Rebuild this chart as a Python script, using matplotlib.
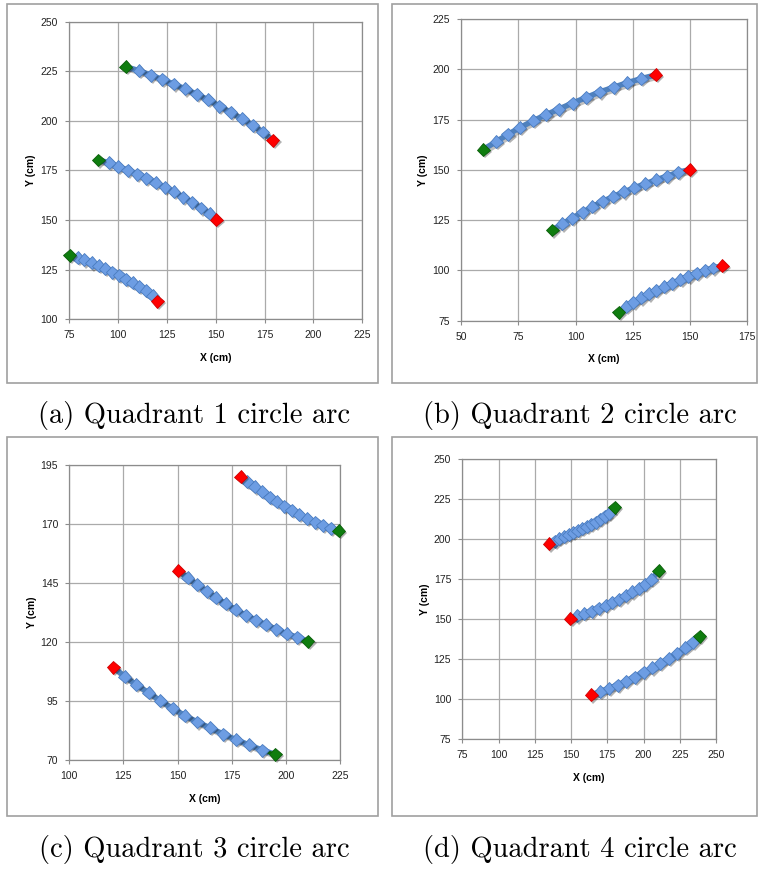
import matplotlib.pyplot as plt
import matplotlib.patheffects as pe
from matplotlib.patches import Rectangle

# ---- data (cm) ----
# panel (a): quadrant 1
a_blue_x = [[110.8, 116.8, 122.7, 128.5, 134.5, 140.4, 146.1, 151.9, 157.7, 163.5, 168.9, 174.0],
            [95.5, 100.2, 105.0, 109.8, 114.5, 119.3, 124.1, 128.7, 133.3, 137.9, 142.5, 146.9],
            [79.4, 82.8, 86.6, 90.2, 93.6, 97.2, 100.7, 104.1, 107.6, 111.0, 114.4, 117.8]]
a_blue_y = [[225.3, 223.1, 220.9, 218.6, 216.1, 213.4, 210.7, 207.5, 204.3, 201.1, 197.9, 194.4],
            [178.9, 176.9, 175.2, 173.2, 171.2, 168.9, 166.5, 164.2, 161.6, 159.0, 156.1, 153.2],
            [131.1, 129.9, 128.4, 127.0, 125.5, 123.8, 122.2, 120.3, 118.5, 116.5, 114.3, 111.9]]
a_green = [(104.0, 227.3), (90.0, 180.3), (75.3, 132.2)]
a_red = [(179.3, 190.2), (150.3, 150.2), (120.2, 109.2)]

# panel (b): quadrant 2
b_blue_x = [[65.3, 70.5, 75.7, 81.5, 87.1, 92.7, 98.7, 104.7, 110.5, 116.6, 122.5, 128.6],
            [94.2, 98.5, 103.1, 107.4, 111.9, 116.4, 121.1, 125.7, 130.5, 135.3, 140.1, 144.8],
            [122.1, 125.3, 128.6, 132.0, 135.3, 138.8, 142.3, 145.8, 149.3, 152.9, 156.6, 160.2]]
b_blue_y = [[164.0, 167.6, 171.0, 174.4, 177.4, 180.2, 183.2, 186.0, 188.7, 191.0, 193.3, 195.3],
            [123.1, 126.0, 128.9, 131.7, 134.3, 136.7, 139.0, 141.1, 143.1, 145.1, 146.9, 148.8],
            [82.0, 84.1, 86.3, 88.3, 90.1, 91.9, 93.7, 95.4, 97.0, 98.5, 100.0, 101.2]]
b_green = [(59.7, 160.1), (89.8, 120.1), (118.9, 79.1)]
b_red = [(135.0, 197.2), (149.9, 150.1), (164.1, 102.3)]

# panel (c): quadrant 3
c_blue_x = [[182.2, 185.7, 189.1, 192.5, 195.9, 199.3, 202.7, 206.2, 209.8, 213.5, 217.0, 220.7],
            [154.6, 159.0, 163.4, 167.7, 172.2, 176.8, 181.4, 186.2, 190.8, 195.6, 200.4, 205.3],
            [125.7, 130.9, 136.6, 142.0, 147.7, 153.4, 159.1, 165.0, 171.0, 177.0, 183.0, 189.0]]
c_blue_y = [[187.9, 185.7, 183.6, 181.4, 179.5, 177.6, 175.8, 174.0, 172.3, 170.7, 169.4, 168.2],
            [147.3, 144.3, 141.5, 138.8, 136.2, 133.7, 131.4, 129.3, 127.3, 125.4, 123.5, 122.0],
            [105.3, 101.9, 98.5, 95.1, 91.9, 88.8, 86.1, 83.6, 81.0, 78.6, 76.4, 74.2]]
c_green = [(224.4, 167.2), (210.2, 120.3), (195.1, 72.4)]
c_red = [(179.1, 190.1), (150.3, 150.2), (120.3, 109.3)]

# panel (d): quadrant 4
d_blue_x = [[138.9, 141.9, 145.2, 148.4, 151.6, 154.6, 157.8, 160.8, 164.0, 167.0, 170.2, 173.4, 176.4],
            [154.3, 159.2, 164.3, 169.1, 173.9, 178.5, 183.1, 187.7, 192.3, 196.9, 201.2, 205.4],
            [170.0, 176.2, 182.2, 188.1, 194.1, 200.1, 205.9, 211.6, 217.4, 223.1, 228.7, 234.1]]
d_blue_y = [[198.9, 200.4, 201.6, 202.9, 204.1, 205.4, 206.6, 207.9, 209.4, 210.8, 212.5, 214.4, 216.4],
            [152.1, 153.5, 155.0, 156.9, 158.5, 160.6, 162.5, 164.6, 167.1, 169.4, 171.9, 174.8],
            [104.8, 106.9, 108.9, 111.4, 113.9, 116.9, 119.6, 122.5, 125.4, 128.7, 132.3, 135.8]]
d_green = [(180.1, 220.0), (210.4, 180.2), (238.9, 139.5)]
d_red = [(134.8, 197.1), (149.6, 150.4), (163.8, 102.7)]

a_xticks = [75, 100, 125, 150, 175, 200, 225]
a_yticks = [100, 125, 150, 175, 200, 225, 250]
b_xticks = [50, 75, 100, 125, 150, 175]
b_yticks = [75, 100, 125, 150, 175, 200, 225]
c_xticks = [100, 125, 150, 175, 200, 225]
c_yticks = [70, 95, 120, 145, 170, 195]
d_xticks = [75, 100, 125, 150, 175, 200, 225, 250]
d_yticks = [75, 100, 125, 150, 175, 200, 225, 250]

captions = ['(a) Quadrant 1 circle arc', '(b) Quadrant 2 circle arc',
            '(c) Quadrant 3 circle arc', '(d) Quadrant 4 circle arc']

W, H = 760, 869
fig = plt.figure(figsize=(W / 100, H / 100), dpi=100)


def fig_rect(l, t, r, b):
    return [l / W, 1 - b / H, (r - l) / W, (b - t) / H]


shadow_m = [pe.SimplePatchShadow(offset=(1.5, -1.5), shadow_rgbFace='k', alpha=0.3), pe.Normal()]
shadow_l = [pe.SimpleLineShadow(offset=(1.5, -1.5), shadow_color='k', alpha=0.25), pe.Normal()]
MS = 6.6


def panel(box, xs, ys, green, red, xticks, yticks, first_red):
    ax = fig.add_axes(fig_rect(*box))
    for i, (bx, by) in enumerate(zip(xs, ys)):
        # the line runs through both end points
        if first_red:
            p0, p1 = red[i], green[i]
        else:
            p0, p1 = green[i], red[i]
        lx = [p0[0]] + bx + [p1[0]]
        ly = [p0[1]] + by + [p1[1]]
        ax.plot(lx, ly, color='#4f81bd', lw=4.0, solid_capstyle='round',
                path_effects=shadow_l, zorder=2, clip_on=False)
        ax.plot(bx, by, 'D', ms=MS, mfc='#6d9de3', mec='#4a7cc0', mew=0.6,
                ls='none', path_effects=shadow_m, zorder=3, clip_on=False)
    ax.plot([p[0] for p in green], [p[1] for p in green], 'D', ms=MS, mfc='#0f7d0f',
            mec='#0a5e0a', mew=0.6, ls='none', path_effects=shadow_m, zorder=4, clip_on=False)
    ax.plot([p[0] for p in red], [p[1] for p in red], 'D', ms=MS, mfc='#ff0000',
            mec='#d00000', mew=0.6, ls='none', path_effects=shadow_m, zorder=4, clip_on=False)
    ax.set_xlim(xticks[0], xticks[-1])
    ax.set_ylim(yticks[0], yticks[-1])
    ax.set_xticks(xticks)
    ax.set_yticks(yticks)
    ax.grid(True, color='#aaaaaa', lw=0.9)
    ax.set_axisbelow(True)
    for s in ax.spines.values():
        s.set_color('#8c8c8c')
        s.set_linewidth(0.9)
    ax.tick_params(direction='out', length=3, width=0.8, color='#8c8c8c',
                   labelsize=7.5, labelcolor='#222222', pad=5)
    for lab in ax.get_xticklabels() + ax.get_yticklabels():
        lab.set_family('Liberation Sans')
    ax.set_xlabel('X (cm)', fontsize=7.5, fontweight='bold', family='Liberation Sans', labelpad=9)
    ax.set_ylabel('Y (cm)', fontsize=7.5, fontweight='bold', family='Liberation Sans', labelpad=3)
    return ax


panel((69, 21.7, 362.3, 319.3), a_blue_x, a_blue_y, a_green, a_red, a_xticks, a_yticks, False)
panel((461, 19, 747.3, 320.7), b_blue_x, b_blue_y, b_green, b_red, b_xticks, b_yticks, False)
axc = panel((69.3, 465, 340, 760), c_blue_x, c_blue_y, c_green, c_red, c_xticks, c_yticks, True)
panel((462.3, 459.3, 716, 739.3), d_blue_x, d_blue_y, d_green, d_red, d_xticks, d_yticks, True)

# short green connector at the end of the lowest arc in (c)
axc.plot([c_blue_x[2][-1], c_green[2][0]], [c_blue_y[2][-1], c_green[2][1]],
         color='#0f7d0f', lw=2.5, zorder=2.5)

# frames around each sub-figure
for l, t, r, b in [(7, 4, 378, 383), (392, 4, 757, 383), (7, 437, 378, 816), (392, 437, 757, 816)]:
    fig.add_artist(Rectangle((l / W, 1 - b / H), (r - l) / W, (b - t) / H,
                             transform=fig.transFigure, fill=False, ec='#a0a0a0', lw=1.2))

for (cx, cy), txt in zip([(194, 416), (580, 416), (194, 849), (580, 849)], captions):
    fig.text(cx / W, 1 - cy / H, txt, ha='center', va='center', family='cmr10', fontsize=20.5)

fig.savefig('out.png', dpi=100)
